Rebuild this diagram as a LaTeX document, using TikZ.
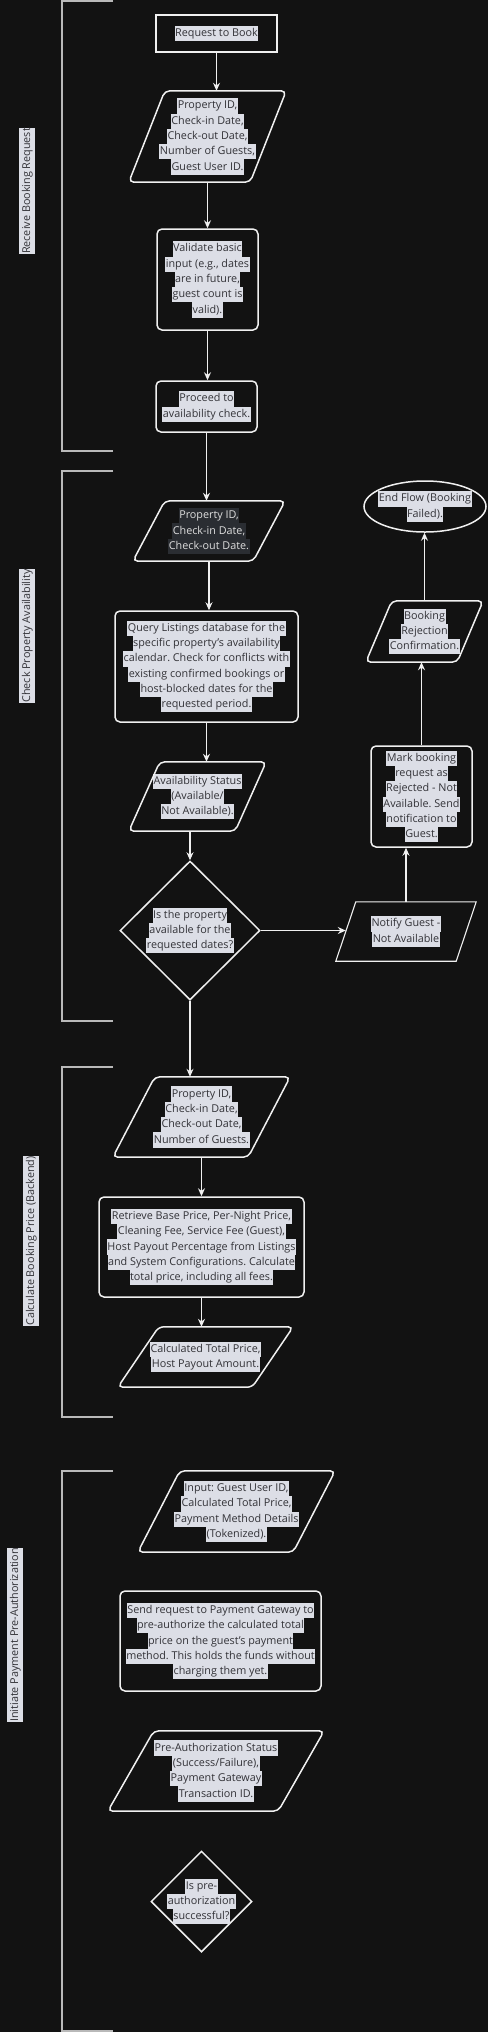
\documentclass[tikz,border=0pt]{standalone}
\usepackage{fontspec}
\setmainfont{Open Sans}
\usetikzlibrary{arrows.meta,shapes.geometric}
\definecolor{bgc}{RGB}{18,18,18}
\definecolor{lnc}{RGB}{240,240,240}
\definecolor{brc}{RGB}{185,185,185}
\definecolor{hlbg}{RGB}{220,222,230}
\definecolor{hlfg}{RGB}{50,50,55}
\definecolor{hldk}{RGB}{42,45,50}
\definecolor{dkfg}{RGB}{222,222,222}
\frenchspacing
\setlength{\fboxsep}{0pt}
\newcommand{\hlt}[2][hlbg]{\colorbox{#1}{\strut\kern0.5pt#2\kern0.5pt}}
\newcommand{\ioshape}[3][shp]{\draw[#1] ([xshift=#3]#2.north west) -- (#2.north east) -- ([xshift=-#3]#2.south east) -- (#2.south west) -- cycle;}
\tikzset{every node/.append style={font=\fontsize{10.8}{15.3}\selectfont, text=hlfg, align=center}}
\tikzset{st/.append style={draw=lnc, line width=1.1pt}}
\tikzset{bx/.append style={draw=lnc, line width=1.5pt, rounded corners=5pt, inner sep=1pt}}
\tikzset{io/.append style={inner sep=0pt}}
\tikzset{shp/.append style={draw=lnc, line width=1.5pt, rounded corners=5pt}}
\tikzset{shpflat/.append style={draw=lnc, line width=1.1pt}}
\tikzset{dc/.append style={diamond, draw=lnc, line width=1.5pt, inner sep=-12pt}}
\tikzset{tm/.append style={ellipse, draw=lnc, line width=1.5pt, inner sep=-10pt}}
\tikzset{arr/.append style={draw=lnc, line width=1.2pt, -{Stealth[length=8pt,width=7pt]}}}
\tikzset{brk/.append style={draw=brc, line width=1.5pt}}
\tikzset{lbl/.append style={rotate=90, inner sep=0pt}}

\begin{document}
\begin{tikzpicture}[x=1pt,y=-1pt]
\useasboundingbox (0,0) rectangle (488,2032);
\fill[bgc] (0,0) rectangle (488,2032);
% lanes
\draw[brk] (113,1) -| (62,451) -- (113,451);
\draw[brk] (113,471) -| (62,1021) -- (113,1021);
\draw[brk] (113,1067) -| (62,1417) -- (113,1417);
\draw[brk] (113,1471) -| (62,2031) -- (113,2031);
\node[lbl] (lrecv) at (27,191) {\hlt{Receive Booking Request}};
\node[lbl] (lcheck) at (27,636) {\hlt{Check Property Availability}};
\node[lbl] (lprice) at (31,1241) {\hlt{Calculate Booking Price (Backend)}};
\node[lbl] (lpay) at (15,1635) {\hlt{Initiate Payment Pre-Authorization}};
% receive booking request
\node[st, minimum width=121, minimum height=37] (req) at (216.5,33.5) {\hlt{Request to Book}};
\node[io, minimum width=157, minimum height=91] (pid1) at (207.5,136.5) {\hlt{Property ID,}\\\hlt{Check-in Date,}\\\hlt{Check-out Date,}\\\hlt{Number of Guests,}\\\hlt{Guest User ID.}};
\ioshape{pid1}{36}
\node[bx, minimum width=101, minimum height=101] (val) at (207.5,279.5) {\hlt{Validate basic}\\\hlt{input (e.g., dates}\\\hlt{are in future,}\\\hlt{guest count is}\\\hlt{valid).}};
\node[bx, minimum width=101, minimum height=51] (proc) at (206.5,406.5) {\hlt{Proceed to}\\\hlt{availability check.}};
% check property availability
\node[io, minimum width=152, minimum height=60, text=dkfg] (pid2) at (209,531) {\hlt[hldk]{Property ID,}\\\hlt[hldk]{Check-in Date,}\\\hlt[hldk]{Check-out Date.}};
\ioshape{pid2}{32}
\node[bx, minimum width=183, minimum height=111] (query) at (206.5,666.5) {\hlt{Query Listings database for the}\\\hlt{specific property's availability}\\\hlt{calendar. Check for conflicts with}\\\hlt{existing confirmed bookings or}\\\hlt{host-blocked dates for the}\\\hlt{requested period.}};
\node[io, minimum width=137, minimum height=69] (avail) at (197.5,796.5) {\hlt{Availability Status}\\\hlt{(Available/}\\\hlt{Not Available).}};
\ioshape{avail}{31}
\node[dc, minimum width=140, minimum height=139] (dec1) at (190,930.5) {\hlt{Is the property}\\\hlt{available for the}\\\hlt{requested dates?}};
\node[io, minimum width=140, minimum height=59] (notify) at (406,931.5) {\hlt{Notify Guest -}\\\hlt{Not Available}};
\ioshape[shpflat]{notify}{20}
\node[bx, minimum width=101, minimum height=101] (mark) at (421.5,796.5) {\hlt{Mark booking}\\\hlt{request as}\\\hlt{Rejected - Not}\\\hlt{Available. Send}\\\hlt{notification to}\\\hlt{Guest.}};
\node[io, minimum width=117, minimum height=61] (br) at (424.5,631.5) {\hlt{Booking}\\\hlt{Rejection}\\\hlt{Confirmation.}};
\ioshape{br}{26}
\node[tm, minimum width=122, minimum height=51] (endf) at (425,506.5) {\hlt{End Flow (Booking}\\\hlt{Failed).}};
% calculate booking price
\node[io, minimum width=177, minimum height=80] (pid3) at (201.5,1117) {\hlt{Property ID,}\\\hlt{Check-in Date,}\\\hlt{Check-out Date,}\\\hlt{Number of Guests.}};
\ioshape{pid3}{42}
\node[bx, minimum width=205, minimum height=100] (retr) at (201.5,1247) {\hlt{Retrieve Base Price, Per-Night Price,}\\\hlt{Cleaning Fee, Service Fee (Guest),}\\\hlt{Host Payout Percentage from Listings}\\\hlt{and System Configurations. Calculate}\\\hlt{total price, including all fees.}};
\node[io, minimum width=175, minimum height=60] (calc) at (205.5,1357) {\hlt{Calculated Total Price,}\\\hlt{Host Payout Amount.}};
\ioshape{calc}{41}
% payment pre-authorization
\node[io, minimum width=197, minimum height=81] (input) at (236.5,1511.5) {\hlt{Input: Guest User ID,}\\\hlt{Calculated Total Price,}\\\hlt{Payment Method Details}\\\hlt{(Tokenized).}};
\ioshape{input}{42}
\node[bx, minimum width=201, minimum height=100] (send) at (220.5,1641) {\hlt{Send request to Payment Gateway to}\\\hlt{pre-authorize the calculated total}\\\hlt{price on the guest's payment}\\\hlt{method. This holds the funds without}\\\hlt{charging them yet.}};
\node[io, minimum width=216, minimum height=80] (pstat) at (216,1771) {\hlt{Pre-Authorization Status}\\\hlt{(Success/Failure),}\\\hlt{Payment Gateway}\\\hlt{Transaction ID.}};
\ioshape{pstat}{46}
\node[dc, minimum width=101, minimum height=101] (dec2) at (201.5,1901.5) {\hlt{Is pre-}\\\hlt{authorization}\\\hlt{successful?}};
% connectors
\path (req.south) edge[arr] (req.south |- pid1.north);
\path (pid1.south) edge[arr] (pid1.south |- val.north);
\path (val.south) edge[arr] (val.south |- proc.north);
\path (proc.south) edge[arr] (proc.south |- pid2.north);
\path (pid2.south) edge[arr] (pid2.south |- query.north);
\path (query.south) edge[arr] (query.south |- avail.north);
\path (dec1.north |- avail.south) edge[arr] (dec1.north);
\path (dec1.east) edge[arr] ([xshift=10]dec1.east -| notify.west);
\path (notify.north) edge[arr] (notify.north |- mark.south);
\path (mark.north) edge[arr] (mark.north |- br.south);
\path (br.north) edge[arr] (br.north |- endf.south);
\path (dec1.south) edge[arr] (dec1.south |- pid3.north);
\path (pid3.south) edge[arr] (pid3.south |- retr.north);
\path (retr.south) edge[arr] (retr.south |- calc.north);
\end{tikzpicture}
\end{document}
